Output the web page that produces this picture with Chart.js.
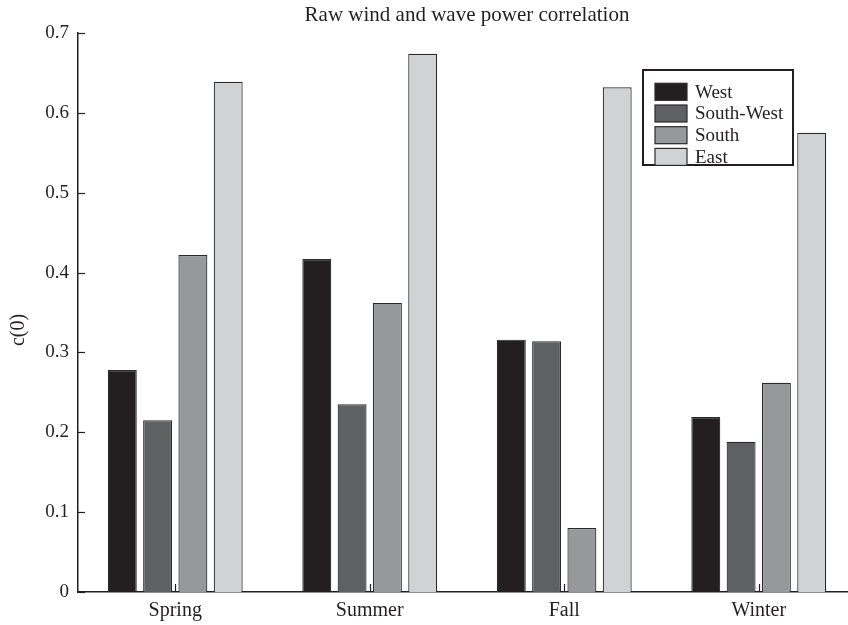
<!DOCTYPE html>
<html>
<head>
<meta charset="utf-8">
<script src="https://cdn.jsdelivr.net/npm/chart.js@4/dist/chart.umd.min.js"></script>
<style>
  html, body { margin: 0; padding: 0; background: #fff; overflow: hidden; }
  #wrap { width: 860px; height: 625px; }
</style>
</head>
<body>
<div id="wrap"><canvas id="corrChart" width="860" height="625"></canvas></div>
<script>
const seasons = ['Spring', 'Summer', 'Fall', 'Winter'];
const west = [0.278, 0.417, 0.316, 0.219];
const southWest = [0.215, 0.235, 0.314, 0.188];
const south = [0.422, 0.362, 0.080, 0.262];
const east = [0.639, 0.674, 0.632, 0.575];
const yTicks = [0, 0.1, 0.2, 0.3, 0.4, 0.5, 0.6, 0.7];
const yLabel = 'c(0)';
const chartTitle = 'Raw wind and wave power correlation';

const serif = '"Liberation Serif", "Times New Roman", serif';
const ink = '#231f20';

function bar(label, data, color) {
    return {
        label: label,
        data: data,
        backgroundColor: color,
        borderColor: '#2a2a2a',
        borderWidth: 1.2,
        barPercentage: 0.82,
        categoryPercentage: 0.726
    };
}

// ticks point inwards, like the original figure; also the axis label and title
const innerTicks = {
    id: 'innerTicks',
    afterDatasetsDraw(chart) {
        const c = chart.ctx;
        const xs = chart.scales.x, ys = chart.scales.y;
        c.save();
        c.strokeStyle = ink;
        c.lineWidth = 1.2;
        yTicks.forEach(v => {
            const y = Math.round(ys.getPixelForValue(v)) + 0.5;
            c.beginPath();
            c.moveTo(xs.left, y);
            c.lineTo(xs.left + 7, y);
            c.stroke();
        });
        seasons.forEach((s, i) => {
            const x = Math.round(xs.getPixelForValue(i)) + 0.5;
            c.beginPath();
            c.moveTo(x, ys.bottom);
            c.lineTo(x, ys.bottom - 8);
            c.stroke();
        });

        // title centred over the plot area, not the canvas
        c.fillStyle = ink;
        c.textAlign = 'center';
        c.textBaseline = 'middle';
        c.font = '21px ' + serif;
        c.fillText(chartTitle, (chart.chartArea.left + chart.chartArea.right) / 2, 15);

        // y axis label, sits a bit below the middle in the original
        c.translate(19, 330);
        c.rotate(-Math.PI / 2);
        c.font = '20px ' + serif;
        c.fillText(yLabel, 0, 0);
        c.restore();
    }
};

// boxed legend sitting inside the plot
const boxLegend = {
    id: 'boxLegend',
    afterDraw(chart) {
        const c = chart.ctx;
        const left = 643, top = 70, w = 150, h = 95;
        c.save();
        c.fillStyle = '#fff';
        c.fillRect(left, top, w, h);
        c.strokeStyle = ink;
        c.lineWidth = 2;
        c.strokeRect(left, top, w, h);
        c.font = '19px ' + serif;
        c.textBaseline = 'middle';
        chart.data.datasets.forEach((ds, i) => {
            const y = top + 13.3 + i * 21.7;
            c.fillStyle = ds.backgroundColor;
            c.fillRect(655, y, 32, 17);
            c.strokeStyle = '#2a2a2a';
            c.lineWidth = 1.2;
            c.strokeRect(655, y, 32, 17);
            c.fillStyle = ink;
            c.fillText(ds.label, 695, y + 9.5);
        });
        c.restore();
    }
};

const ctx = document.getElementById('corrChart').getContext('2d');
window.graficoCorr = new Chart(ctx, {
    type: 'bar',
    data: {
        labels: seasons,
        datasets: [
            bar('West', west, '#231f20'),
            bar('South-West', southWest, '#5f6062'),
            bar('South', south, '#97989a'),
            bar('East', east, '#d1d2d4')
        ]
    },
    options: {
        responsive: false,
        animation: false,
        layout: { padding: { left: 0, right: 4, top: 33, bottom: 0 } },
        plugins: {
            legend: { display: false },
            tooltip: { enabled: false },
            title: { display: false }
        },
        scales: {
            x: {
                offset: true,
                grid: { display: false, drawTicks: false },
                border: { display: true, color: ink, width: 1.5 },
                ticks: { color: ink, font: { family: serif, size: 20 }, padding: 7 },
                afterFit(scale) { scale.height = 33; }
            },
            y: {
                min: 0,
                max: 0.7,
                grid: { display: false, drawTicks: false },
                border: { display: true, color: ink, width: 1.5 },
                ticks: {
                    stepSize: 0.1,
                    color: ink,
                    font: { family: serif, size: 19 },
                    padding: 9
                },
                afterFit(scale) { scale.width = 78; }
            }
        }
    },
    plugins: [innerTicks, boxLegend]
});
</script>
</body>
</html>
